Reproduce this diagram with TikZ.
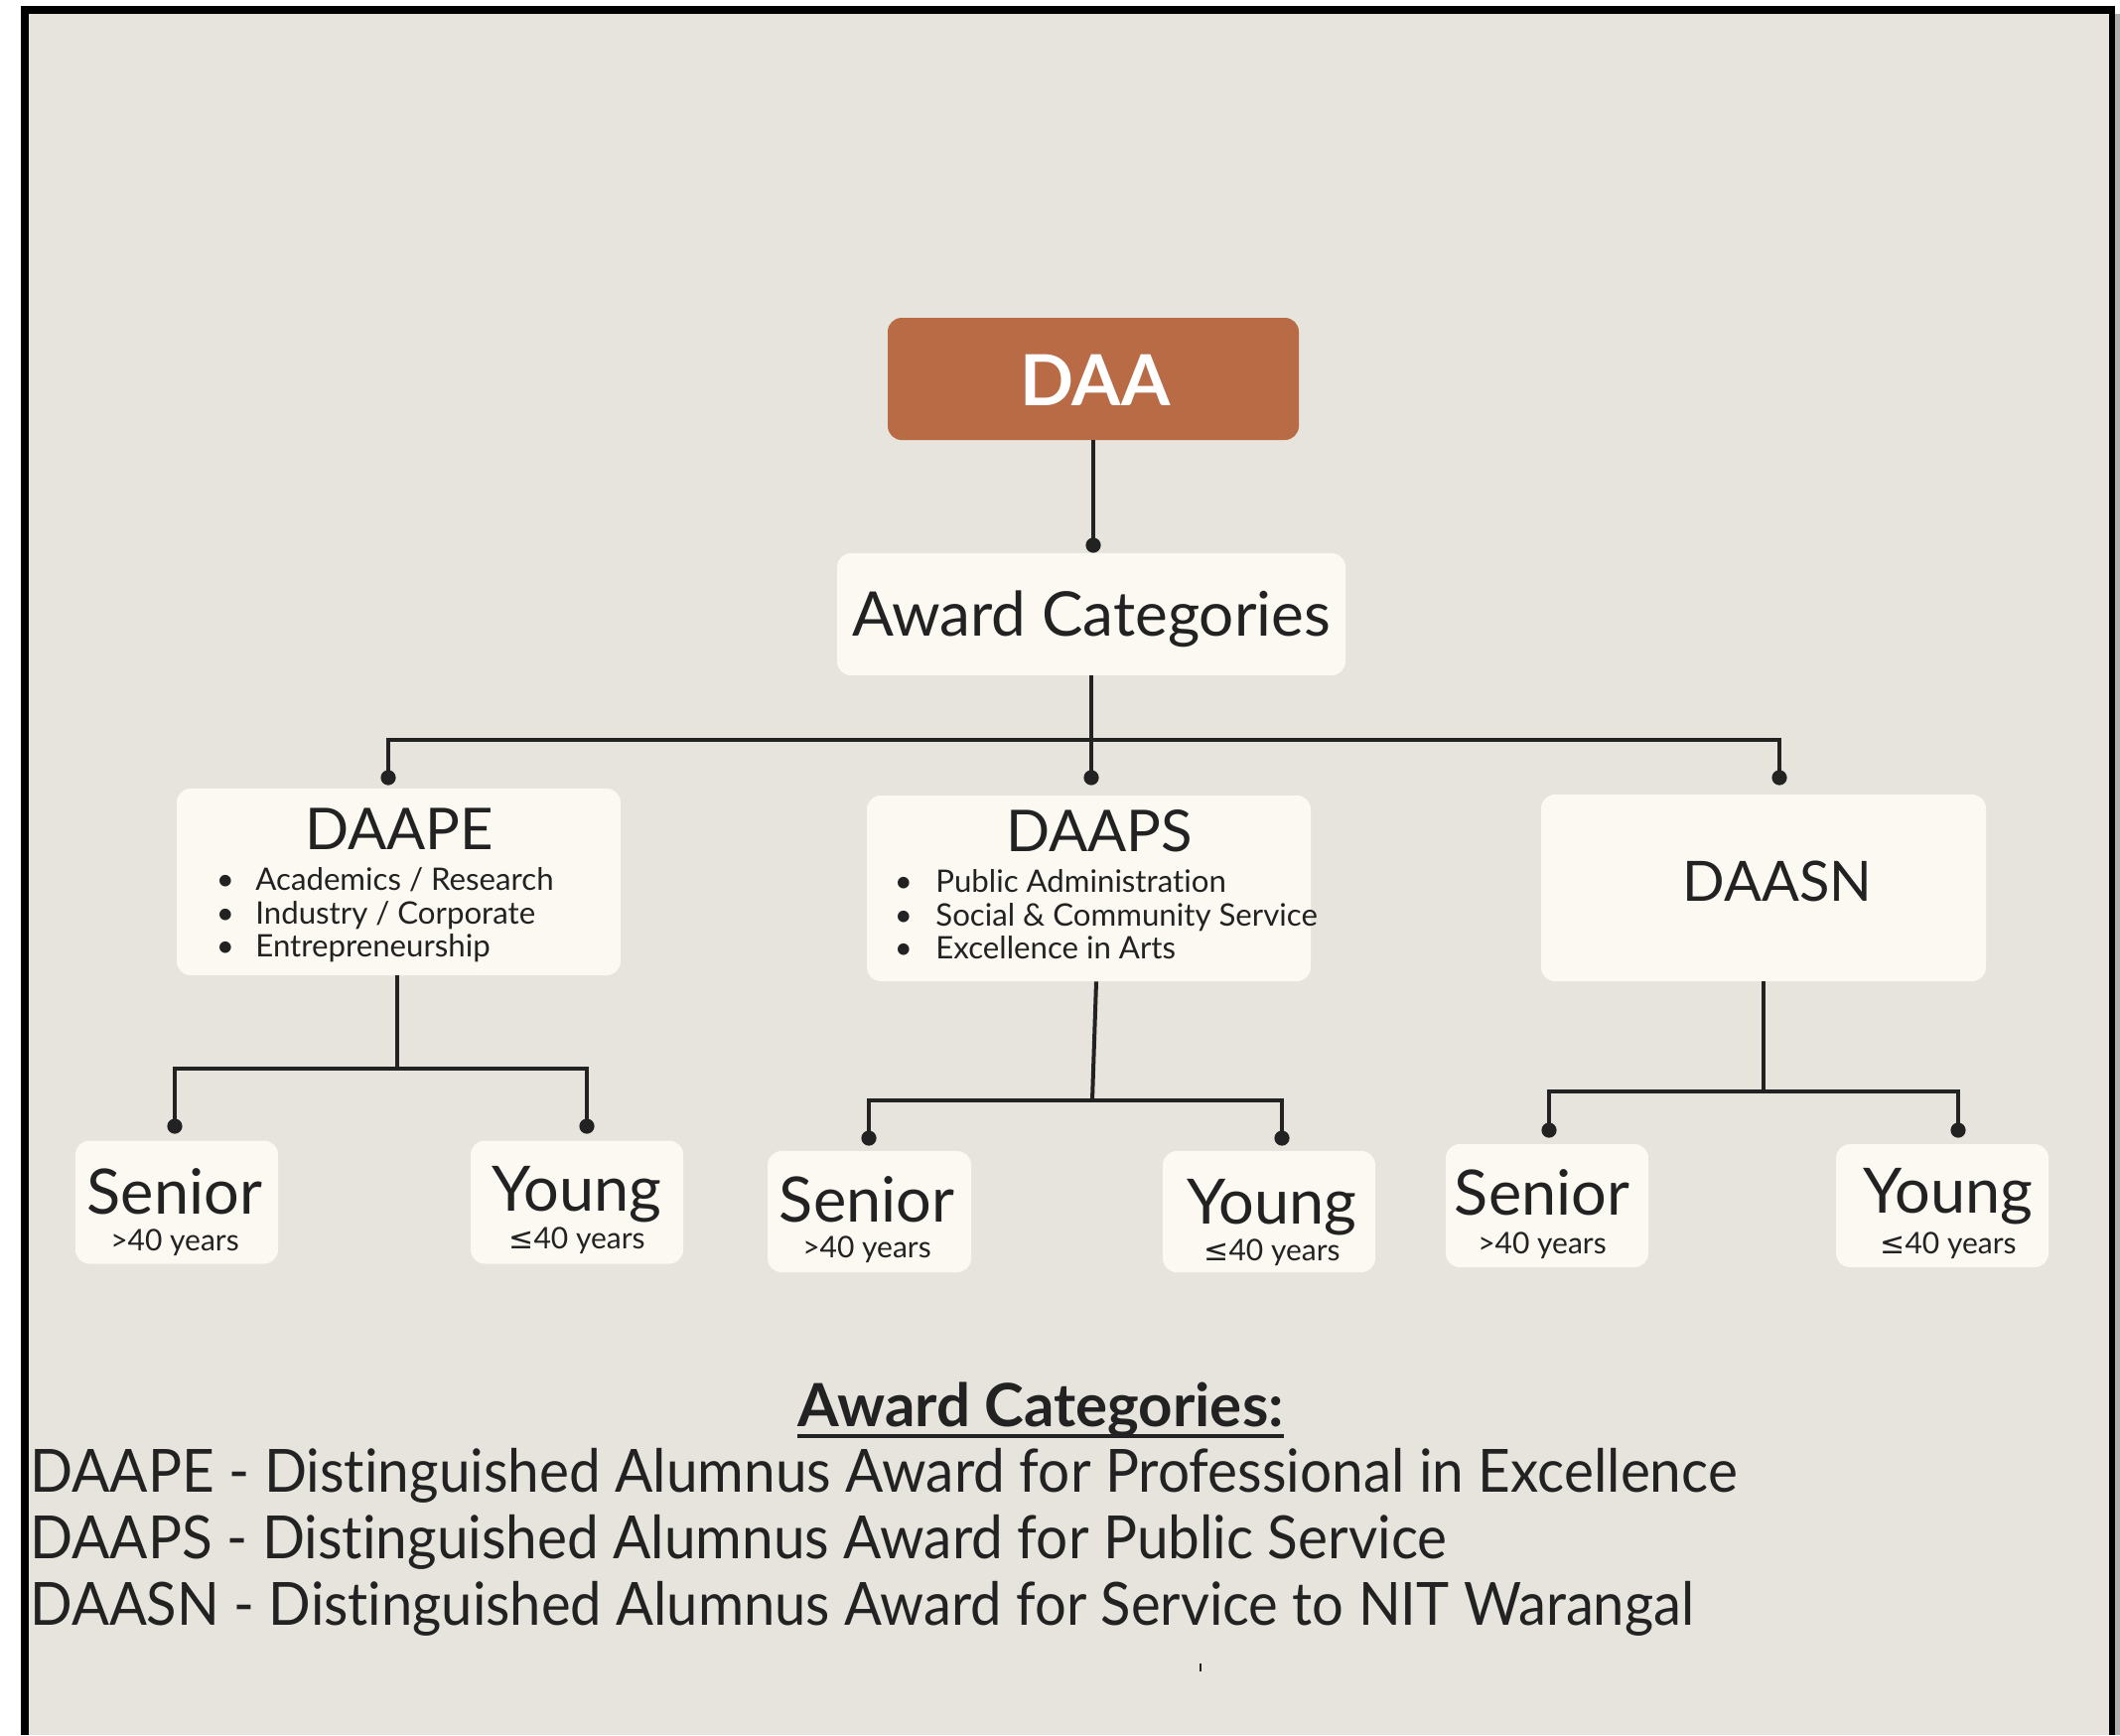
\documentclass[tikz,border=0pt]{standalone}
\usepackage{fontspec}
\setmainfont{Lato}[Ligatures={NoCommon,NoContextual}]
\newfontfamily\dejavu{DejaVu Sans}
\definecolor{bgc}{HTML}{E7E4DD}
\definecolor{boxc}{HTML}{FCF8F2}
\definecolor{daac}{HTML}{B96B46}
\definecolor{inkc}{HTML}{222222}
\definecolor{shadec}{HTML}{B0B0B0}
\newcommand\fsz[1]{\fontsize{#1}{1.2\dimexpr#1\relax}\selectfont}
\begin{document}
\begin{tikzpicture}[x=0.5pt,y=-0.5pt,
  box/.style={fill=boxc,draw=none,rounded corners=7pt,inner sep=0pt},
  leafbox/.style={box,minimum height=62pt},
  conn/.style={draw=inkc,line width=2pt},
  dotc/.style={fill=inkc},
  txt/.style={text=inkc,inner sep=0pt,anchor=base},
  titletxt/.style={txt,font=\fsz{29pt}},
  itemtxt/.style={txt,anchor=base west,font=\fsz{15.6pt}},
  bullettxt/.style={txt,font=\fsz{15.6pt}},
  bigleaf/.style={txt,font=\fsz{31.5pt}},
  smallleaf/.style={txt,font=\fsz{15pt}},
  legendtxt/.style={txt,anchor=base west,font=\fsz{30pt}}]
\useasboundingbox (0,0) rectangle (2135,1747);
% background and frame
\fill[white] (0,0) rectangle (2135,1747);
\fill[bgc] (29,14) rectangle (2124,1747);
\fill[black] (21,6) rectangle (2130,14);
\fill[black] (21,6) rectangle (29,1747);
\fill[black] (2124,6) rectangle (2130,1747);
\fill[shadec] (2130,14) rectangle (2135,1747);

% top
\node[box,fill=daac,minimum width=207pt,minimum height=61.5pt] (daa) at (1101,381.5) {};
\node[txt,text=white,font=\fsz{35.5pt}\bfseries] (daat) at (1103,408) {DAA};
\node[box,minimum width=256pt,minimum height=61.5pt] (ac) at (1099,618.5) {};
\node[txt,font=\fsz{31pt}] (act) at (1099,640) {Award Categories};

% level 2 boxes
\node[box,minimum width=223.5pt,minimum height=94pt] (pe) at (401.5,888) {};
\node[box,minimum width=223.5pt,minimum height=93.5pt] (ps) at (1096.5,894.5) {};
\node[box,minimum width=224pt,minimum height=94pt] (sn) at (1776,894) {};

\node[titletxt] (pet) at (402,855) {DAAPE};
\node[bullettxt] (peb1) at (227,896) {\textbullet};
\node[bullettxt] (peb2) at (227,930) {\textbullet};
\node[bullettxt] (peb3) at (227,963) {\textbullet};
\node[itemtxt] (pei1) at (257,896) {Academics / Research};
\node[itemtxt] (pei2) at (257,930) {Industry / Corporate};
\node[itemtxt] (pei3) at (257,963) {Entrepreneurship};

\node[titletxt] (pst) at (1107,857) {DAAPS};
\node[bullettxt] (psb1) at (910,898) {\textbullet};
\node[bullettxt] (psb2) at (910,932) {\textbullet};
\node[bullettxt] (psb3) at (910,965) {\textbullet};
\node[itemtxt] (psi1) at (942,898) {Public Administration};
\node[itemtxt] (psi2) at (942,932) {Social \& Community Service};
\node[itemtxt] (psi3) at (942,965) {Excellence in Arts};

\node[txt,font=\fsz{28pt}] (snt) at (1790,907) {DAASN};

% leaves
\node[leafbox,minimum width=102pt] (s1) at (178,1210.5) {};
\node[leafbox,minimum width=107pt] (y1) at (581,1210.5) {};
\node[leafbox,minimum width=102.5pt,minimum height=61pt] (s2) at (875.5,1220) {};
\node[leafbox,minimum width=107pt,minimum height=61pt] (y2) at (1278,1220) {};
\node[leafbox,minimum width=102pt] (s3) at (1558,1214) {};
\node[leafbox,minimum width=107pt] (y3) at (1956,1214) {};

\node[bigleaf] (s1a) at (176,1222) {Senior};
\node[smallleaf] (s1b) at (176,1259) {>40 years};
\node[bigleaf] (y1a) at (581,1219) {Young};
\node[smallleaf] (y1b) at (581,1257) {{\dejavu ≤}40 years};
\node[bigleaf] (s2a) at (873,1230) {Senior};
\node[smallleaf] (s2b) at (873,1266) {>40 years};
\node[bigleaf] (y2a) at (1281,1232) {Young};
\node[smallleaf] (y2b) at (1281,1269) {{\dejavu ≤}40 years};
\node[bigleaf] (s3a) at (1553,1223) {Senior};
\node[smallleaf] (s3b) at (1553,1262) {>40 years};
\node[bigleaf] (y3a) at (1962,1221) {Young};
\node[smallleaf] (y3b) at (1962,1262) {{\dejavu ≤}40 years};

% connector coordinates
\coordinate (d0) at (1101,549);
\coordinate (j0) at (1099,745);
\coordinate (dpe) at (391,783);
\coordinate (dps) at (1099,783);
\coordinate (dsn) at (1792,783);
\coordinate (j1) at (400,1076);
\coordinate (ds1) at (176,1134);
\coordinate (dy1) at (591,1134);
\coordinate (j2) at (1100,1108);
\coordinate (ds2) at (875,1146);
\coordinate (dy2) at (1291,1146);
\coordinate (j3) at (1776,1099);
\coordinate (ds3) at (1560,1138);
\coordinate (dy3) at (1972,1138);

\draw[conn] (daa.south) -- (d0);
\draw[conn] (ac.south) -- (j0) -- (dps);
\draw[conn] (dpe) |- (j0) -| (dsn);
\draw[conn] (pe.south -| j1) -- (j1);
\draw[conn] (ds1) |- (j1) -| (dy1);
\draw[conn] (ps.south -| 1104,0) -- (j2);
\draw[conn] (ds2) |- (j2) -| (dy2);
\draw[conn] (sn.south) -- (j3);
\draw[conn] (ds3) |- (j3) -| (dy3);
\foreach \d in {d0,dpe,dps,dsn,ds1,dy1,ds2,dy2,ds3,dy3}
  \fill[dotc] (\d) circle (3.8pt);

% legend
\node[txt,font=\fsz{30pt}\bfseries] (lh) at (1048,1436) {Award Categories:};
\draw[inkc,line width=1.6pt] (lh.west |- 0,1446) -- (lh.east |- 0,1446);
\node[legendtxt] (l1) at (30,1502) {\scalebox{0.945}[1]{DAAPE - Distinguished Alumnus Award for Professional in Excellence}};
\node[legendtxt] (l2) at (30,1569) {\scalebox{0.945}[1]{DAAPS - Distinguished Alumnus Award for Public Service}};
\node[legendtxt] (l3) at (30,1636) {\scalebox{0.935}[1]{DAASN - Distinguished Alumnus Award for Service to NIT Warangal}};
\draw[inkc,line width=1.4pt] (1209,1675) -- (1209,1683);
\end{tikzpicture}
\end{document}
